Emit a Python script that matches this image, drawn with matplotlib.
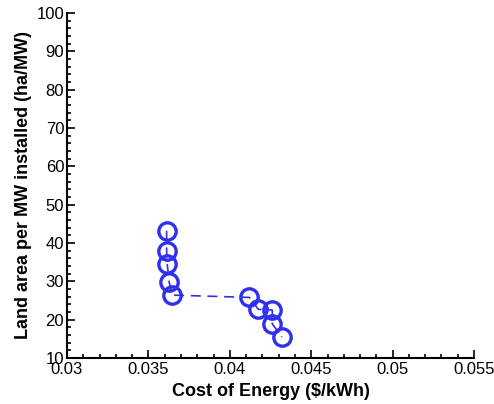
import matplotlib
matplotlib.use("Agg")
import matplotlib.pyplot as plt
from matplotlib.ticker import MultipleLocator

plt.rcParams['font.family'] = ['Liberation Sans', 'DejaVu Sans']

cost = [0.03612, 0.03612, 0.03616, 0.03627, 0.03647, 0.0412, 0.04175, 0.04261, 0.04261, 0.04319]
land = [43.2, 38.0, 34.4, 29.9, 26.4, 25.8, 22.7, 22.5, 18.9, 15.5]
xticks = [0.03, 0.035, 0.04, 0.045, 0.05, 0.055]
xtick_labels = ['0.03', '0.035', '0.04', '0.045', '0.05', '0.055']

fig = plt.figure(figsize=(4.94, 4.04), dpi=100)
ax = fig.add_axes([0.1356, 0.1139, 0.824, 0.854])

ax.plot(cost, land, linestyle=(0, (6, 4)), color='#2f2fee', linewidth=1.2,
        marker='o', markersize=12.5, markerfacecolor='none',
        markeredgecolor='#2f2fee', markeredgewidth=2.4)

ax.set_xlim(0.03, 0.055)
ax.set_ylim(10, 100)
ax.set_xticks(xticks)
ax.set_xticklabels(xtick_labels)
ax.xaxis.set_minor_locator(MultipleLocator(0.001))
ax.yaxis.set_major_locator(MultipleLocator(10))
ax.yaxis.set_minor_locator(MultipleLocator(2))

for s in ['top', 'right']:
    ax.spines[s].set_visible(False)
for s in ['left', 'bottom']:
    ax.spines[s].set_linewidth(1.5)

ax.tick_params(which='both', direction='in', labelsize=12, width=1.2)
ax.tick_params(which='major', length=6, pad=2)
ax.tick_params(axis='x', which='major', pad=3)
ax.tick_params(which='minor', length=3)

ax.set_xlabel('Cost of Energy ($/kWh)', fontsize=13, fontweight='bold', labelpad=4)
ax.set_ylabel('Land area per MW installed (ha/MW)', fontsize=13, fontweight='bold', labelpad=3)

fig.savefig('out.png', dpi=100)
